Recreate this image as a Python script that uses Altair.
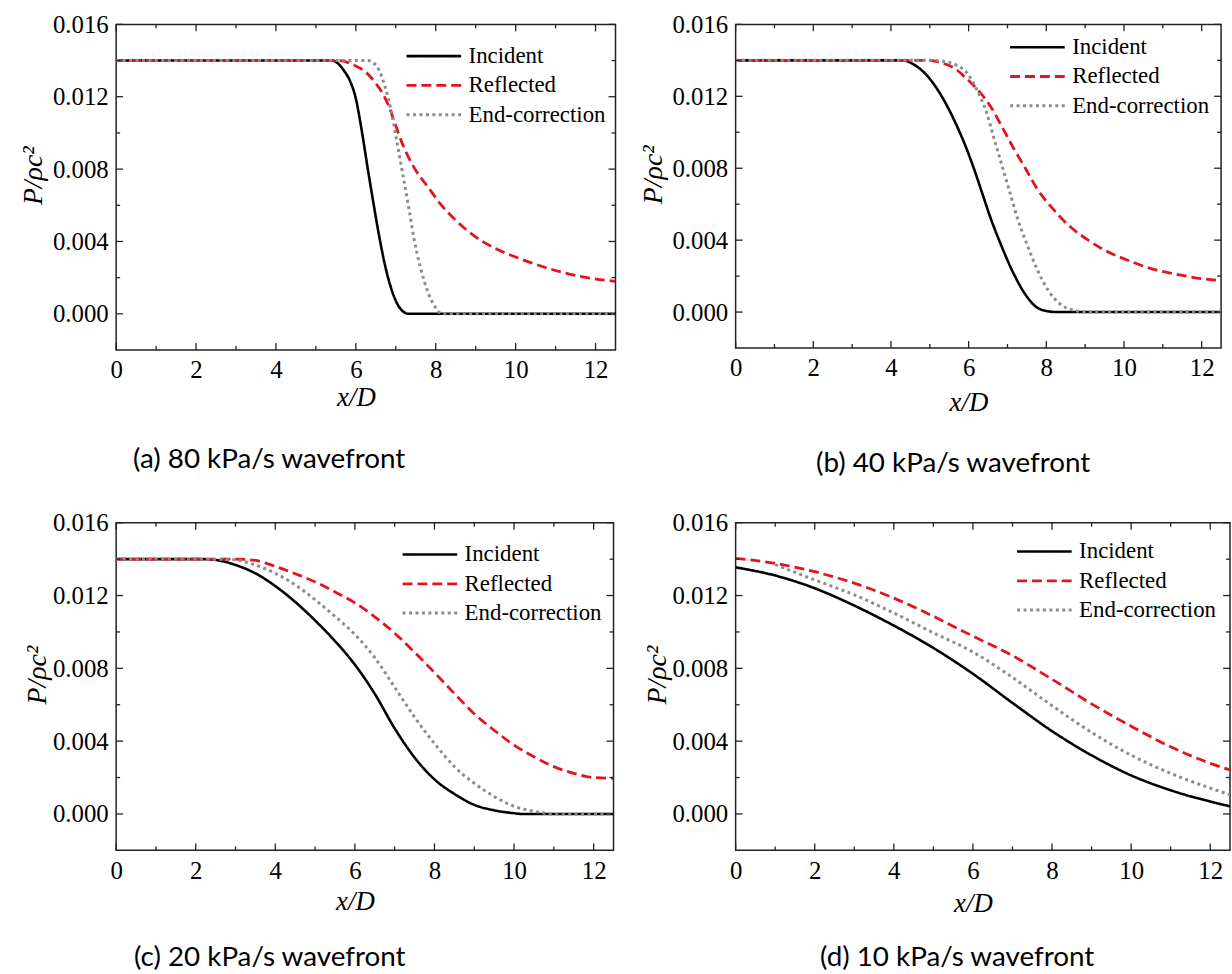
import altair as alt
import pandas as pd

SERIES = ["Incident", "Reflected", "End-correction"]
COLORS = ["#000000", "#e3141c", "#8c8c8c"]
DASHES = [[1, 0], [10, 5], [3, 3.5]]
WIDTHS = [2.6, 3.0, 3.2]

X_LABELS = [0, 2, 4, 6, 8, 10, 12]
X_MINOR = [1, 3, 5, 7, 9, 11]
Y_LABELS = [0.0, 0.004, 0.008, 0.012, 0.016]
Y_MINOR = [0.002, 0.006, 0.010, 0.014]
X_DOMAIN = [0, 12.5]
Y_DOMAIN = [-0.002, 0.016]

CAPTIONS = ["(a) 80 kPa/s wavefront", "(b) 40 kPa/s wavefront",
            "(c) 20 kPa/s wavefront", "(d) 10 kPa/s wavefront"]

# ---- panel (a) ----
a_inc_x = [0, 5.4, 5.55, 5.7, 5.85, 6.0, 6.15, 6.3, 6.45, 6.6, 6.75, 6.9, 7.05, 7.2, 7.3, 12.5]
a_inc_p = [0.014, 0.014, 0.01385, 0.01345, 0.0129, 0.0119, 0.0101, 0.0080, 0.0060, 0.0041, 0.0025, 0.0013, 0.0005, 0.0001, 0.0, 0.0]
a_ref_x = [0, 5.5, 5.65, 5.95, 6.24, 6.48, 6.68, 6.83, 6.97, 7.12, 7.31, 7.51, 7.81, 8.1, 8.49, 8.98, 9.47, 10.06, 10.65, 11.23, 11.82, 12.5]
a_ref_p = [0.014, 0.014, 0.01398, 0.01375, 0.01338, 0.01280, 0.01215, 0.01145, 0.01058, 0.00965, 0.00869, 0.00790, 0.00700, 0.00612, 0.0052, 0.00428, 0.00364, 0.00309, 0.00263, 0.00226, 0.00199, 0.0018]
a_end_x = [0, 6.3, 6.53, 6.73, 6.88, 7.02, 7.17, 7.32, 7.46, 7.61, 7.81, 8.0, 8.15, 12.5]
a_end_p = [0.014, 0.014, 0.01366, 0.01256, 0.01127, 0.00961, 0.00778, 0.00594, 0.0041, 0.00263, 0.00116, 0.00033, 0.0, 0.0]

# ---- panel (b) ----
b_inc_x = [0, 4.3, 4.57, 4.97, 5.37, 5.67, 5.96, 6.16, 6.36, 6.56, 6.86, 7.16, 7.46, 7.75, 8.05, 8.25, 12.5]
b_inc_p = [0.014, 0.014, 0.01379, 0.01305, 0.01176, 0.01048, 0.00901, 0.00783, 0.00654, 0.00526, 0.0036, 0.00213, 0.00098, 0.00027, 0.00004, 0.0, 0.0]
b_ref_x = [0, 5.0, 5.27, 5.67, 5.96, 6.26, 6.56, 6.86, 7.16, 7.46, 7.75, 8.15, 8.55, 9.05, 9.54, 10.14, 10.74, 11.33, 11.93, 12.5]
b_ref_p = [0.014, 0.014, 0.01388, 0.01351, 0.01295, 0.0123, 0.01145, 0.0103, 0.0091, 0.008, 0.0069, 0.00579, 0.00487, 0.00404, 0.0034, 0.00285, 0.00239, 0.00211, 0.00188, 0.00175]
b_end_x = [0, 5.0, 5.35, 5.67, 5.96, 6.21, 6.46, 6.66, 6.86, 7.06, 7.26, 7.51, 7.75, 8.05, 8.35, 8.7, 9.05, 12.5]
b_end_p = [0.014, 0.014, 0.01395, 0.01375, 0.01329, 0.01237, 0.0111, 0.00961, 0.00814, 0.00667, 0.0052, 0.00373, 0.00244, 0.0012, 0.00046, 0.0001, 0.0, 0.0]

# ---- panel (c) ----
c_inc_x = [0, 2.2, 2.6, 3.0, 3.5, 4.0, 4.5, 5.0, 5.5, 6.0, 6.5, 7.0, 7.5, 8.0, 8.5, 9.0, 9.5, 10.0, 10.2, 12.5]
c_inc_p = [0.014, 0.014, 0.01392, 0.01368, 0.01322, 0.01252, 0.01165, 0.01063, 0.0095, 0.0082, 0.0066, 0.0047, 0.0031, 0.0019, 0.0011, 0.0005, 0.0002, 0.00004, 0.0, 0.0]
c_ref_x = [0, 3.0, 3.5, 4.0, 4.5, 5.0, 5.5, 6.0, 6.5, 7.0, 7.5, 8.0, 8.5, 9.0, 9.5, 10.0, 10.5, 11.0, 11.5, 12.0, 12.5]
c_ref_p = [0.014, 0.014, 0.01393, 0.0136, 0.0132, 0.01275, 0.0122, 0.01160, 0.01083, 0.00993, 0.00888, 0.00777, 0.00662, 0.0055, 0.0046, 0.00378, 0.00314, 0.0026, 0.00223, 0.002, 0.00196]
c_end_x = [0, 2.8, 3.5, 4.0, 4.5, 5.0, 5.5, 6.0, 6.5, 7.0, 7.5, 8.0, 8.5, 9.0, 9.5, 10.0, 10.5, 11.0, 12.5]
c_end_p = [0.014, 0.014, 0.01368, 0.01322, 0.01259, 0.01177, 0.01086, 0.00986, 0.00859, 0.00696, 0.00532, 0.00387, 0.0026, 0.00169, 0.00096, 0.00042, 0.00015, 0.0, 0.0]

# ---- panel (d) ----
d_inc_x = [0, 1, 2, 3, 4, 5, 6, 7, 8, 9, 10, 11, 12, 12.5]
d_inc_p = [0.01355, 0.01310, 0.01240, 0.01145, 0.01035, 0.00912, 0.00770, 0.00610, 0.00455, 0.00322, 0.00212, 0.00130, 0.00068, 0.00042]
d_ref_x = [0, 1, 2, 3, 4, 5, 6, 7, 8, 9, 10, 11, 12, 12.5]
d_ref_p = [0.01404, 0.01377, 0.01331, 0.01268, 0.01186, 0.01086, 0.00977, 0.0087, 0.0074, 0.00605, 0.00482, 0.00369, 0.00278, 0.00242]
d_end_x = [1, 2, 3, 4, 5, 6, 7, 8, 9, 10, 11, 12, 12.5]
d_end_p = [0.0137, 0.01286, 0.01204, 0.01104, 0.00995, 0.0089, 0.0075, 0.00595, 0.00448, 0.00323, 0.00223, 0.00142, 0.00105]

FRAME = "#222222"
SERIF = "Liberation Serif"
MAJOR = 7
MINOR = 4
LABEL_SIZE = 25
TITLE_SIZE = 27


def panel(curves, caption, W, H, lx, ly, xty, ytx, cdx, coff):
    rows = []
    for s, (xs, ps) in zip(SERIES, curves):
        for xv, pv in zip(xs, ps):
            rows.append({"x": xv, "p": pv, "series": s})
    df = pd.DataFrame(rows)

    def X(field):
        return alt.X(f"{field}:Q", title="x/D",
                     scale=alt.Scale(domain=X_DOMAIN, nice=False, zero=False),
                     axis=alt.Axis(values=X_LABELS, format="d", titleX=W / 2 - 10,
                                   titleY=xty, titleBaseline="middle",
                                   labelFont=SERIF, labelFontSize=LABEL_SIZE,
                                   labelColor="black", labelPadding=8, labelFlush=False,
                                   titleFont=SERIF, titleFontSize=TITLE_SIZE,
                                   titleFontStyle="italic", titleFontWeight="normal",
                                   titleColor="black", ticks=False, domain=False,
                                   grid=False))

    def Y(field):
        return alt.Y(f"{field}:Q", title="P/ρc²",
                     scale=alt.Scale(domain=Y_DOMAIN, nice=False, zero=False),
                     axis=alt.Axis(values=Y_LABELS, format=".3f", titleX=ytx,
                                   titleY=H / 2 - 12, titleBaseline="middle",
                                   titleAlign="center",
                                   labelFont=SERIF, labelFontSize=LABEL_SIZE,
                                   labelColor="black", labelPadding=8, labelFlush=False,
                                   titleFont=SERIF, titleFontSize=TITLE_SIZE + 1,
                                   titleFontStyle="italic", titleFontWeight="normal",
                                   titleColor="black", ticks=False, domain=False,
                                   grid=False))

    legend = alt.Legend(orient="none", legendX=lx, legendY=ly, title=None,
                        symbolType="stroke", symbolSize=3025, symbolStrokeWidth=3,
                        clipHeight=24, rowPadding=5.5, labelFont=SERIF,
                        labelFontSize=23, labelColor="black", labelOffset=6,
                        padding=0)

    lines = alt.Chart(df).mark_line(interpolate="monotone", clip=True).encode(
        x=X("x"), y=Y("p"),
        color=alt.Color("series:N", scale=alt.Scale(domain=SERIES, range=COLORS),
                        legend=legend),
        strokeDash=alt.StrokeDash("series:N",
                                  scale=alt.Scale(domain=SERIES, range=DASHES),
                                  legend=legend),
        strokeWidth=alt.StrokeWidth("series:N",
                                    scale=alt.Scale(domain=SERIES, range=WIDTHS),
                                    legend=None),
    )

    layers = [lines]
    for vals, ln in ((X_LABELS, MAJOR), (X_MINOR, MINOR)):
        d = pd.DataFrame({"t": vals})
        layers.append(alt.Chart(d).mark_rule(color=FRAME, strokeWidth=1.3).encode(
            x=X("t"), y=alt.value(H), y2=alt.value(H - ln)))
        layers.append(alt.Chart(d).mark_rule(color=FRAME, strokeWidth=1.3).encode(
            x=X("t"), y=alt.value(0), y2=alt.value(ln)))
    for vals, ln in ((Y_LABELS, MAJOR), (Y_MINOR, MINOR)):
        d = pd.DataFrame({"t": vals})
        layers.append(alt.Chart(d).mark_rule(color=FRAME, strokeWidth=1.3).encode(
            y=Y("t"), x=alt.value(0), x2=alt.value(ln)))
        layers.append(alt.Chart(d).mark_rule(color=FRAME, strokeWidth=1.3).encode(
            y=Y("t"), x=alt.value(W), x2=alt.value(W - ln)))

    return alt.layer(*layers).properties(
        width=W, height=H,
        title=alt.TitleParams(caption, orient="bottom", anchor="start", frame="group",
                              dx=cdx, offset=coff, font="Lato", fontSize=28,
                              fontWeight="normal", color="black"))


pa = panel([(a_inc_x, a_inc_p), (a_ref_x, a_ref_p), (a_end_x, a_end_p)], CAPTIONS[0],
           503, 328, 291, 20, 48, -83, 17, 36)
pb = panel([(b_inc_x, b_inc_p), (b_ref_x, b_ref_p), (b_end_x, b_end_p)], CAPTIONS[1],
           489, 326, 275, 11, 55, -83, 81, 35)
pc = panel([(c_inc_x, c_inc_p), (c_ref_x, c_ref_p), (c_end_x, c_end_p)], CAPTIONS[2],
           501, 330, 287, 20, 52, -79, 18, 29)
pdd = panel([(d_inc_x, d_inc_p), (d_ref_x, d_ref_p), (d_end_x, d_end_p)], CAPTIONS[3],
            498, 330, 282, 17, 54, -79, 85, 27)

IND = dict(color="independent", strokeDash="independent", strokeWidth="independent")

row1 = alt.hconcat(pa, pb, spacing=21).resolve_scale(**IND).resolve_legend(
    color="independent", strokeDash="independent")
row2 = alt.hconcat(pc, pdd, spacing=27).resolve_scale(**IND).resolve_legend(
    color="independent", strokeDash="independent")

chart = alt.vconcat(row1, row2, spacing=31).resolve_scale(**IND).resolve_legend(
    color="independent", strokeDash="independent"
).properties(
    padding={"left": 19, "top": 8, "right": 0, "bottom": 0},
    background="white",
).configure_view(
    stroke=FRAME, strokeWidth=1.5
).configure_axis(
    labelFont=SERIF, labelFontSize=LABEL_SIZE, labelColor="black", labelPadding=8,
    labelFlush=False, titleFont=SERIF, titleFontSize=TITLE_SIZE, titleFontStyle="italic",
    titleFontWeight="normal", titleColor="black", ticks=False, domain=False, grid=False,
)

chart.save("out.html", embed_options={"renderer": "svg", "actions": False})
